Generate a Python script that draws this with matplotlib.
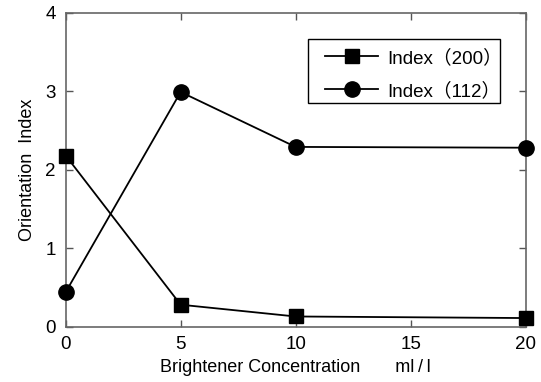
import matplotlib
matplotlib.use("Agg")
import matplotlib.pyplot as plt
from matplotlib.patches import Rectangle

plt.rcParams['font.family'] = ['Liberation Sans', 'Noto Sans CJK SC', 'DejaVu Sans']

conc = [0, 5, 10, 20]
idx_200 = [2.18, 0.28, 0.13, 0.11]
idx_112 = [0.44, 2.99, 2.29, 2.28]
labels = ['Index\uff08200\uff09', 'Index\uff08112\uff09']

fig = plt.figure(figsize=(5.41, 3.82), dpi=100)
ax = fig.add_axes([0.1214, 0.1448, 0.850, 0.822])

ax.plot(conc, idx_200, color='black', lw=1.3, marker='s', ms=10,
        label=labels[0], clip_on=False, zorder=3)
ax.plot(conc, idx_112, color='black', lw=1.3, marker='o', ms=11,
        label=labels[1], clip_on=False, zorder=3)

ax.set_xlim(0, 20)
ax.set_ylim(0, 4)
ax.set_xticks([0, 5, 10, 15, 20])
ax.set_yticks([0, 1, 2, 3, 4])
ax.tick_params(direction='in', length=5, width=1.0, color='#555555',
               labelsize=13.5, top=True, right=True, pad=7)
for s in ax.spines.values():
    s.set_linewidth(1.2)
    s.set_color('#666666')

ax.set_xlabel('Brightener Concentration       ml\u2009/\u2009l', fontsize=13, labelpad=4)
ax.set_ylabel('Orientation  Index', fontsize=13, labelpad=7)

# legend entries without frame, box drawn separately so it can sit wider
leg = ax.legend(loc='upper left', bbox_to_anchor=(0.5646, 0.884),
                borderaxespad=0, borderpad=0, fontsize=13.5, frameon=False,
                handlelength=2.8, handletextpad=0.5, labelspacing=0.8)
ax.add_patch(Rectangle((0.527, 0.712), 0.4176, 0.204, transform=ax.transAxes,
                       fill=False, edgecolor='black', lw=1.0, zorder=4))

fig.savefig('out.png', dpi=100)
